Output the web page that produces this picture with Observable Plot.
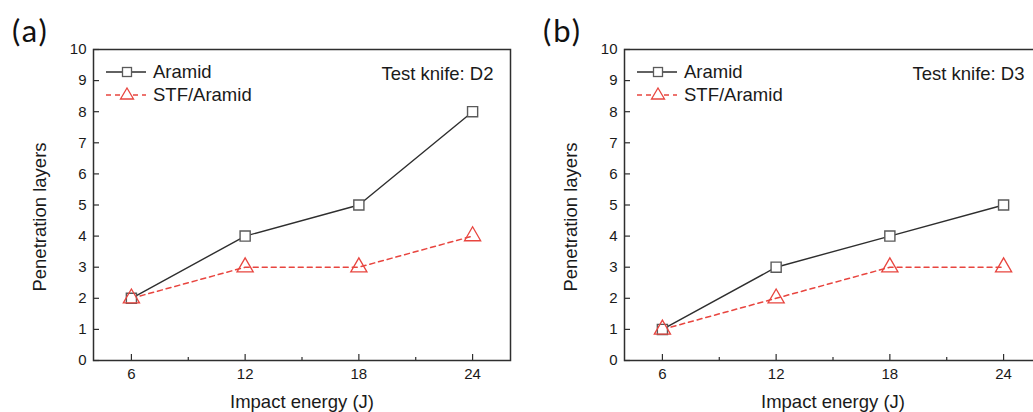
<!DOCTYPE html>
<html>
<head>
<meta charset="utf-8">
<script src="https://cdn.jsdelivr.net/npm/d3@7"></script>
<script src="https://cdn.jsdelivr.net/npm/@observablehq/plot@0.6"></script>
<style>
  html, body { margin: 0; padding: 0; background: #fff; }
  #wrap { position: relative; width: 1033px; height: 412px; overflow: hidden; background: #fff; }
  #wrap svg { position: absolute; top: 0; overflow: visible; }
</style>
</head>
<body>
<div id="wrap"></div>
<script>
// ---- data ----
const energies = [6, 12, 18, 24];
const seriesNames = ["Aramid", "STF/Aramid"];
const panelLabels = ["(a)", "(b)"];
const knifeLabels = ["Test knife: D2", "Test knife: D3"];
const aramidD2 = [2, 4, 5, 8];
const stfD2 = [2, 3, 3, 4];
const aramidD3 = [1, 3, 4, 5];
const stfD3 = [1, 2, 3, 3];
const yTicks = [0, 1, 2, 3, 4, 5, 6, 7, 8, 9, 10];
const xMajorTicks = [6, 12, 18, 24];
const xMinorTicks = [9, 15, 21];
const xTitle = "Impact energy (J)";
const yTitle = "Penetration layers";

const FONT = "'Liberation Sans', Arial, sans-serif";
const BLACK = "#2e2e2e";
const GRAY = "#5a5a5a";
const RED = "#e8453f";

function panel(aramid, stf, label, knife, left) {
  const rowsA = energies.map((e, i) => ({x: e, y: aramid[i]}));
  const rowsS = energies.map((e, i) => ({x: e, y: stf[i]}));
  const W = 520, H = 412, mL = 93, mR = 10, mT = 49, mB = 52;
  const svg = Plot.plot({
    width: W, height: H,
    marginLeft: mL, marginRight: mR, marginTop: mT, marginBottom: mB,
    style: {fontFamily: FONT, background: "transparent", overflow: "visible"},
    x: {domain: [4, 26]},
    y: {domain: [0, 10]},
    marks: [
      Plot.axisY(yTicks, {tickSize: -6, tickPadding: 13, fontSize: 15, fill: "#1a1a1a", stroke: BLACK, strokeWidth: 1.2, tickFormat: d => d, label: null}),
      Plot.axisX(xMajorTicks, {tickSize: -6, tickPadding: 14, fontSize: 15, fill: "#1a1a1a", stroke: BLACK, strokeWidth: 1.2, tickFormat: d => d, label: null}),
      Plot.axisX(xMinorTicks, {tickSize: -3, tickFormat: () => "", stroke: BLACK, strokeWidth: 1.2, label: null}),
      Plot.frame({stroke: BLACK, strokeWidth: 1.5}),
      Plot.line(rowsS, {x: "x", y: "y", stroke: RED, strokeWidth: 1.5, strokeDasharray: "5,4"}),
      Plot.line(rowsA, {x: "x", y: "y", stroke: BLACK, strokeWidth: 1.4}),
      Plot.dot(rowsA, {x: "x", y: "y", symbol: "square", r: 5.7, stroke: GRAY, strokeWidth: 1.4, fill: "white"}),
      Plot.dot(rowsS, {x: "x", y: "y", symbol: "triangle", r: 6, stroke: RED, strokeWidth: 1.3, fill: "none"}),
      Plot.text([xTitle], {frameAnchor: "bottom", dy: 42, fontSize: 18.5, fill: "#1a1a1a", lineAnchor: "middle", textAnchor: "middle"}),
      Plot.text([yTitle], {frameAnchor: "left", rotate: -90, dx: -53, dy: 12, fontSize: 18.5, fill: "#1a1a1a", textAnchor: "middle", lineAnchor: "middle"}),
      Plot.text([knife], {frameAnchor: "top-right", dx: -17, dy: 25, fontSize: 18.5, fill: "#1a1a1a", textAnchor: "end", lineAnchor: "middle"})
    ]
  });
  svg.style.left = left + "px";
  const s = d3.select(svg);
  // panel label
  s.append("text").attr("x", 12).attr("y", 42).attr("text-anchor", "start")
    .attr("font-family", "Lato, 'Open Sans', sans-serif").attr("font-size", 31)
    .attr("letter-spacing", "2px").attr("fill", "#111")
    .text(label);
  // legend
  const lg = s.append("g").attr("font-family", FONT).attr("font-size", 18.5).attr("fill", "#1a1a1a").attr("text-anchor", "start");
  const rows = [{y: 72, name: seriesNames[0], stroke: BLACK, mk: GRAY, dash: null, sq: true},
                {y: 95, name: seriesNames[1], stroke: RED, mk: RED, dash: "5,4", sq: false}];
  rows.forEach(r => {
    const cx = mL + 34;
    const l = lg.append("line").attr("x1", mL + 13).attr("x2", mL + 53).attr("y1", r.y).attr("y2", r.y)
      .attr("stroke", r.stroke).attr("stroke-width", 1.4);
    if (r.dash) l.attr("stroke-dasharray", r.dash);
    if (r.sq) {
      lg.append("rect").attr("x", cx - 4.5).attr("y", r.y - 4.5).attr("width", 9).attr("height", 9)
        .attr("fill", "white").attr("stroke", r.mk).attr("stroke-width", 1.3);
    } else {
      lg.append("path").attr("d", `M${cx},${r.y - 7}L${cx + 6.5},${r.y + 4}L${cx - 6.5},${r.y + 4}Z`)
        .attr("fill", "white").attr("stroke", r.mk).attr("stroke-width", 1.3);
    }
    lg.append("text").attr("x", mL + 60).attr("y", r.y).attr("dy", "0.35em").text(r.name);
  });
  document.getElementById("wrap").appendChild(svg);
}

panel(aramidD2, stfD2, panelLabels[0], knifeLabels[0], 0);
panel(aramidD3, stfD3, panelLabels[1], knifeLabels[1], 531);
</script>
</body>
</html>
